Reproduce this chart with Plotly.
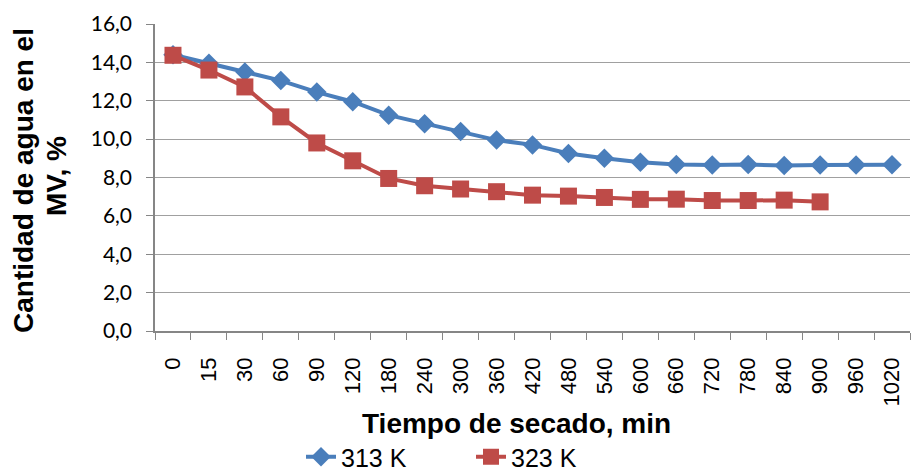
import plotly.graph_objects as go

tiempo = ["0", "15", "30", "60", "90", "120", "180", "240", "300", "360", "420",
          "480", "540", "600", "660", "720", "780", "840", "900", "960", "1020"]
k313 = [14.4, 13.95, 13.5, 13.05, 12.45, 11.95, 11.25, 10.8, 10.4, 9.95, 9.7,
        9.25, 9.0, 8.8, 8.68, 8.65, 8.68, 8.62, 8.65, 8.65, 8.67]
k323 = [14.37, 13.6, 12.72, 11.16, 9.8, 8.87, 7.95, 7.57, 7.4, 7.26, 7.08,
        7.03, 6.96, 6.86, 6.87, 6.8, 6.8, 6.82, 6.73]

L, R, T, B = 155, 2, 24, 139
W, H = 912, 470
pw, ph = W - L - R, H - T - B

title_font = dict(family="Liberation Sans, Arial", size=28, color="black")

fig = go.Figure()
fig.add_trace(go.Scatter(
    x=tiempo, y=k313, name="313 K", mode="lines+markers",
    line=dict(color="#4A7EBB", width=4),
    marker=dict(symbol="diamond", size=15, color="#4A7EBB"),
))
fig.add_trace(go.Scatter(
    x=tiempo[:len(k323)], y=k323, name="323 K", mode="lines+markers",
    line=dict(color="#BE4B48", width=4),
    marker=dict(symbol="square", size=17, color="#BE4B48"),
))

fig.update_layout(
    width=W, height=H,
    margin=dict(l=L, r=R, t=T, b=B, autoexpand=False),
    paper_bgcolor="white", plot_bgcolor="white",
    separators=",.",
    showlegend=True,
    legend=dict(orientation="h", x=(301 - L) / pw, xanchor="left",
                y=(331 - 457) / ph, yanchor="middle",
                font=dict(family="Liberation Sans, Arial", size=25, color="black"),
                entrywidth=125, entrywidthmode="pixels",
                traceorder="normal", bgcolor="rgba(0,0,0,0)"),
    font=dict(family="Liberation Sans, Arial", color="black"),
    annotations=[
        dict(text="<b>Tiempo de secado, min</b>", xref="paper", yref="paper",
             x=(516 - L) / pw, y=(331 - 423) / ph, xanchor="center", yanchor="middle",
             showarrow=False, font=title_font),
        dict(text="<b>Cantidad de agua en el</b>", xref="paper", yref="paper",
             x=(23 - L) / pw, y=(331 - 181) / ph, xanchor="center", yanchor="middle",
             textangle=-90, showarrow=False, font=title_font),
        dict(text="<b>MV, %</b>", xref="paper", yref="paper",
             x=(56 - L) / pw, y=(331 - 176) / ph, xanchor="center", yanchor="middle",
             textangle=-90, showarrow=False, font=title_font),
    ],
)
fig.update_xaxes(
    type="category", categoryorder="array", categoryarray=tiempo,
    automargin=False,
    tickangle=-90, tickfont=dict(family="Liberation Sans, Arial", size=22, color="black"),
    ticklabelstandoff=16,
    showline=True, linecolor="#868686", linewidth=1.5,
    ticks="outside", tickson="boundaries", ticklen=7, tickcolor="#868686",
    showgrid=False,
    range=[-0.5, len(tiempo) - 0.5],
)
fig.update_yaxes(
    automargin=False,
    range=[0, 16], dtick=2, tickformat=".1f",
    tickfont=dict(family="Lato, sans-serif", size=21, color="black"),
    ticklabelstandoff=10,
    showline=True, linecolor="#868686", linewidth=1.5,
    ticks="outside", ticklen=7, tickcolor="#868686",
    showgrid=True, gridcolor="#A0A0A0", gridwidth=1.3,
    zeroline=False,
)

fig.write_html("out.html")
